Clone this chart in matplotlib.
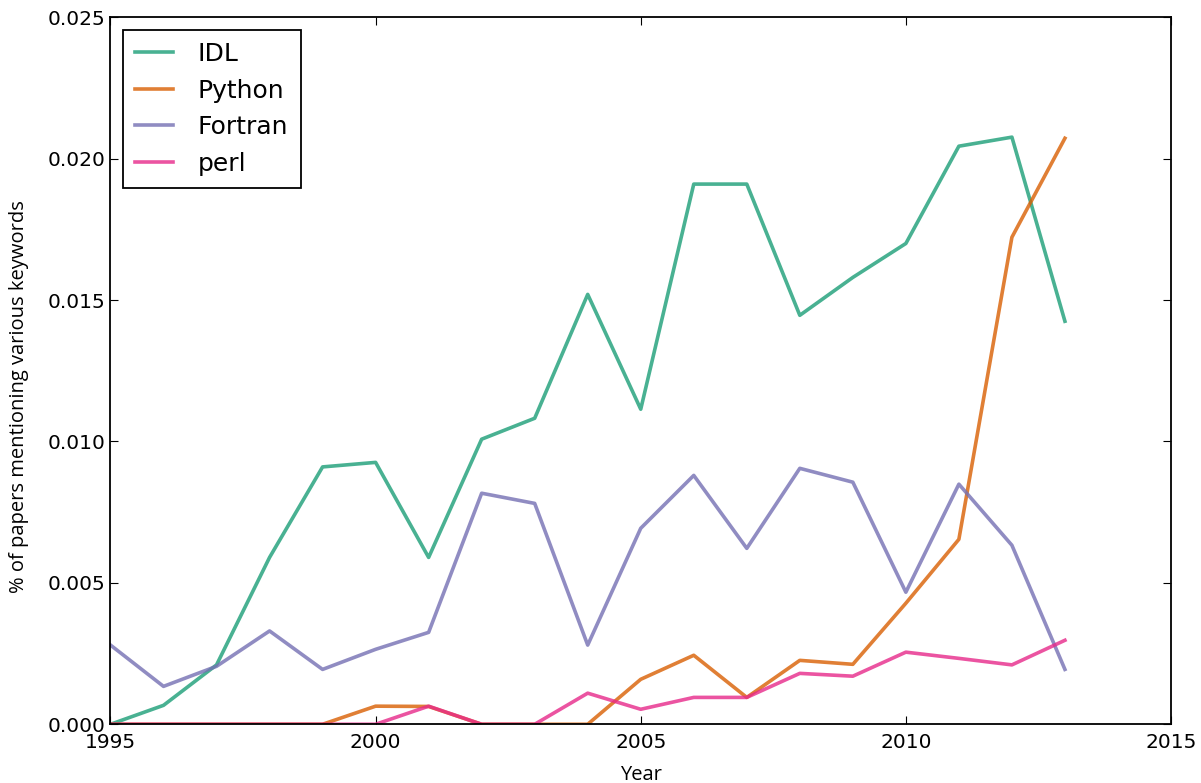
import numpy as np
import matplotlib
matplotlib.use('Agg')
import matplotlib.pyplot as plt

years = list(range(1995, 2014))

idl = [0.0, 0.00067, 0.0021, 0.0059, 0.0091, 0.00926, 0.0059, 0.01008, 0.01082, 0.0152,
       0.01114, 0.0191, 0.0191, 0.01446, 0.0158, 0.0170, 0.02044, 0.02076, 0.01425]
python = [0.0, 0.0, 0.0, 0.0, 0.0, 0.00064, 0.00063, 0.0, 0.0, 0.0,
          0.00159, 0.00244, 0.00095, 0.00226, 0.00212, 0.00428, 0.00654, 0.01722, 0.02072]
fortran = [0.0028, 0.00134, 0.00205, 0.0033, 0.00194, 0.00265, 0.00325, 0.00817, 0.00781, 0.0028,
           0.00693, 0.0088, 0.00622, 0.00905, 0.00856, 0.00467, 0.00849, 0.00633, 0.00194]
perl = [0.0, 0.0, 0.0, 0.0, 0.0, 0.0, 0.00064, 0.0, 0.0, 0.0011,
        0.00053, 0.00095, 0.00095, 0.0018, 0.0017, 0.00255, 0.00233, 0.0021, 0.00297]

series = [('IDL', idl, '#1b9e77'), ('Python', python, '#d95f02'),
          ('Fortran', fortran, '#7570b3'), ('perl', perl, '#e7298a')]

fig = plt.figure(figsize=(12.01, 7.83), dpi=100)
ax = fig.add_axes([0.092, 0.075, 0.883, 0.903])

for name, vals, col in series:
    ax.plot(years, vals, color=col, alpha=0.8, lw=2.6, label=name)

ax.set_xlim(1995, 2015)
ax.set_ylim(0, 0.025)
ax.set_xticks(range(1995, 2016, 5))
ax.set_yticks(np.arange(0, 0.0251, 0.005))
ax.yaxis.set_major_formatter(matplotlib.ticker.FormatStrFormatter('%.3f'))
ax.tick_params(direction='in', top=True, right=True, length=6, labelsize=14.5)
ax.tick_params(axis='x', pad=6)
for s in ax.spines.values():
    s.set_linewidth(1.3)

ax.set_xlabel('Year', fontsize=14.5, family='Open Sans')
ax.set_ylabel('% of papers mentioning various keywords', fontsize=14.5, family='Open Sans')
# label positions
ax.xaxis.set_label_coords(0.5, -0.058)
ax.yaxis.set_label_coords(-0.077, 0.464)

leg = ax.legend(loc='upper left', fontsize=18, fancybox=False, framealpha=1,
                edgecolor='black', handlelength=1.5, handletextpad=1.0,
                borderpad=0.5, labelspacing=0.5, borderaxespad=0.5)
leg.get_frame().set_linewidth(1.3)

fig.savefig('out.png', dpi=100)
